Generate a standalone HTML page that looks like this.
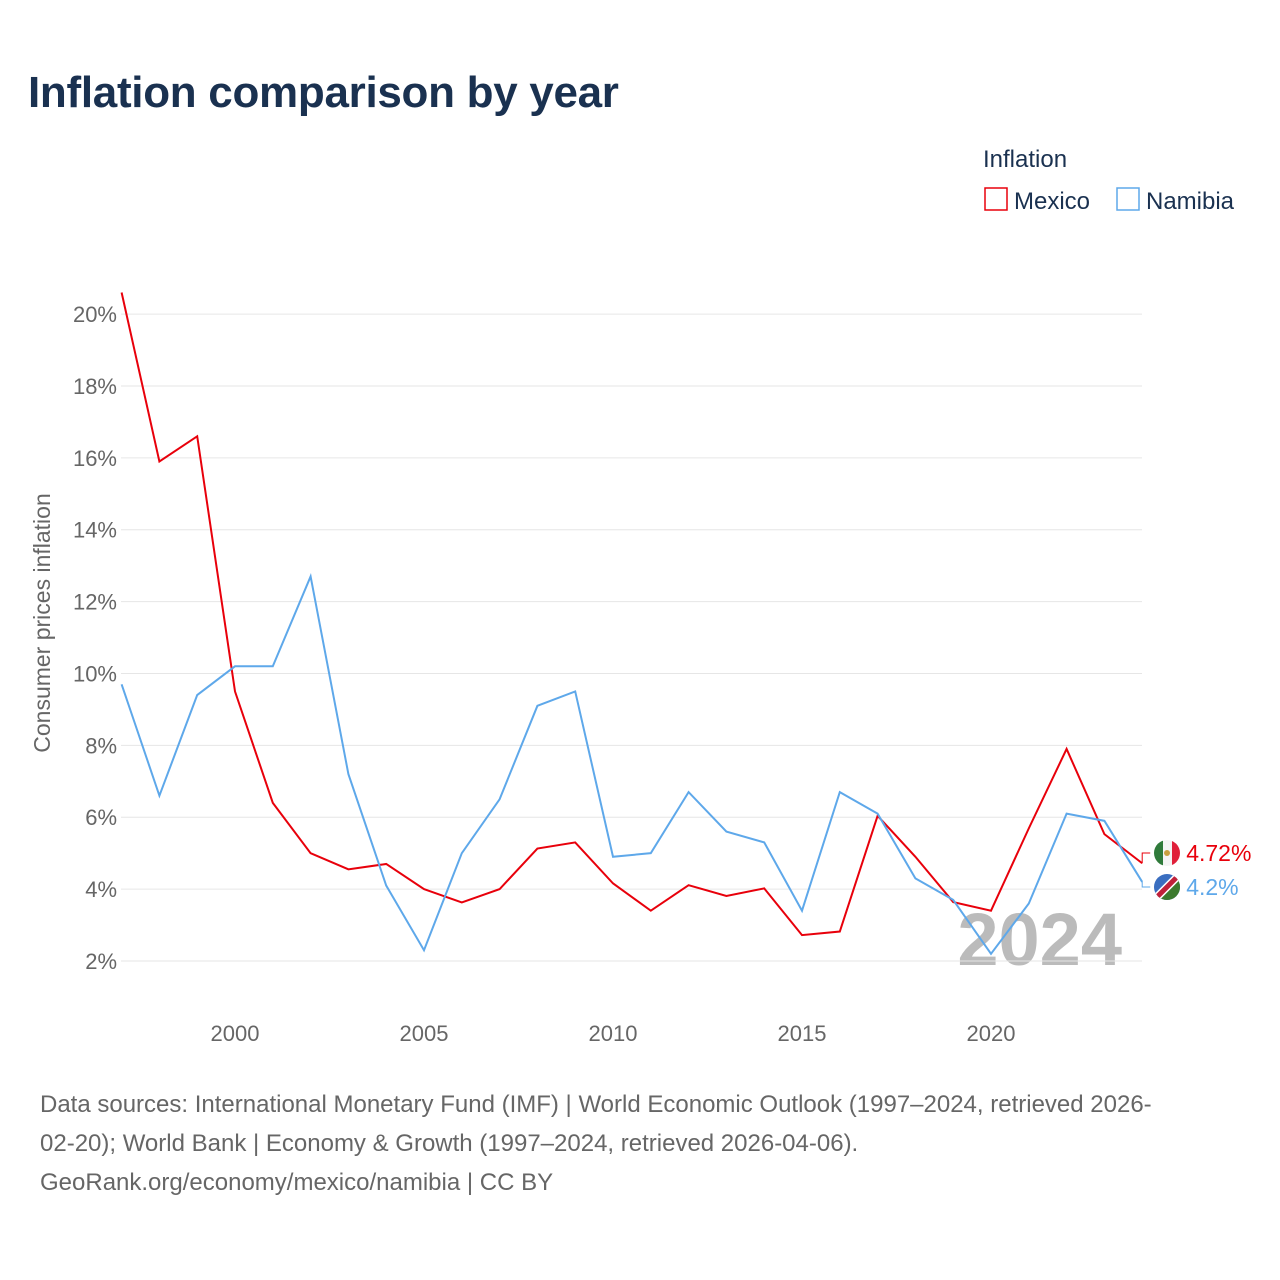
<!DOCTYPE html>
<html><head><meta charset="utf-8">
<style>
body{margin:0;background:#fff;font-family:"Liberation Sans",sans-serif;}
#wrap{position:relative;width:1280px;height:1280px;overflow:hidden;}
h1{position:absolute;left:28px;top:68px;margin:0;font-size:44px;font-weight:bold;color:#1a3150;letter-spacing:-0.3px;}
.src{position:absolute;left:40px;top:1085px;width:1230px;font-size:24px;line-height:39px;color:#666;white-space:nowrap;}
</style></head><body>
<div id="wrap">
<h1>Inflation comparison by year</h1>
<svg id="svg" width="1280" height="1280" style="position:absolute;left:0;top:0">
<defs><clipPath id="c1"><circle cx="1167" cy="853" r="13"/></clipPath><clipPath id="c2"><circle cx="1167" cy="887" r="13"/></clipPath></defs>
<text x="983" y="167" font-size="24" fill="#1a3150">Inflation</text>
<g><rect x="985" y="188" width="22" height="22" fill="none" stroke="#e8000b" stroke-width="1.5"/><text x="1014" y="209" font-size="24" fill="#1a3150">Mexico</text></g>
<g><rect x="1117" y="188" width="22" height="22" fill="none" stroke="#5ea8ea" stroke-width="1.5"/><text x="1146" y="209" font-size="24" fill="#1a3150">Namibia</text></g>
<text transform="translate(50,623) rotate(-90)" text-anchor="middle" font-size="23" fill="#666">Consumer prices inflation</text>
<text x="1122" y="965" text-anchor="end" font-size="74" font-weight="bold" fill="#bbb">2024</text>
<g id="grid"></g><g id="lines"></g>
<g clip-path="url(#c1)"><rect x="1154" y="840" width="9" height="26" fill="#2f7a3a"/><rect x="1163" y="840" width="9" height="26" fill="#f4f4f4"/><rect x="1172" y="840" width="9" height="26" fill="#e0203a"/><circle cx="1167" cy="853" r="3" fill="#c8a040"/></g>
<g clip-path="url(#c2)"><rect x="1154" y="874" width="26" height="26" fill="#3a6ec0"/><polygon points="1180,874 1180,900 1154,900" fill="#3c7a2e"/><line x1="1154" y1="900" x2="1180" y2="874" stroke="#fff" stroke-width="8"/><line x1="1154" y1="900" x2="1180" y2="874" stroke="#c0203a" stroke-width="5"/></g>
</svg>
<div class="src">Data sources: International Monetary Fund (IMF) | World Economic Outlook (1997–2024, retrieved 2026-<br>02-20); World Bank | Economy &amp; Growth (1997–2024, retrieved 2026-04-06).<br>GeoRank.org/economy/mexico/namibia | CC BY</div>
</div>
<script>
const years=[1997,1998,1999,2000,2001,2002,2003,2004,2005,2006,2007,2008,2009,2010,2011,2012,2013,2014,2015,2016,2017,2018,2019,2020,2021,2022,2023,2024];
const mexico=[20.6,15.9,16.6,9.5,6.4,5.0,4.55,4.7,4.0,3.63,4.0,5.13,5.3,4.16,3.4,4.11,3.81,4.02,2.72,2.82,6.04,4.9,3.64,3.4,5.69,7.9,5.53,4.72];
const namibia=[9.7,6.6,9.4,10.2,10.2,12.7,7.2,4.1,2.3,5.0,6.5,9.1,9.5,4.9,5.0,6.7,5.6,5.3,3.4,6.7,6.1,4.3,3.7,2.2,3.6,6.1,5.9,4.2];
const yTicks=[2,4,6,8,10,12,14,16,18,20];
const xTicks=[2000,2005,2010,2015,2020];
const NS="http://www.w3.org/2000/svg";
const X=y=>121.6+(y-1997)*37.8;
const Y=v=>961-(v-2)*35.94;
const grid=document.getElementById('grid'),lines=document.getElementById('lines');
function mk(t,a,p){const e=document.createElementNS(NS,t);for(const k in a)e.setAttribute(k,a[k]);p.appendChild(e);return e;}
yTicks.forEach(v=>{
  const l=mk('line',{x1:121,x2:1142,y1:Y(v),y2:Y(v),stroke:'#e6e6e6','stroke-width':1},grid);
  
  
  const t=mk('text',{x:117,y:Y(v)+8,'text-anchor':'end','font-size':22,fill:'#666'},grid);t.textContent=v+'%';
  
  
});
xTicks.forEach(v=>{
  const t=mk('text',{x:X(v),y:1041,'text-anchor':'middle','font-size':22,fill:'#666'},grid);t.textContent=v;
  
  
});
function series(d,c,name,lab,ly){
  const p=mk('polyline',{points:d.map((v,i)=>X(years[i])+','+Y(v)).join(' '),fill:'none',stroke:c,'stroke-width':2},lines);
  
  
  const last=d[d.length-1],x=X(years[years.length-1]);
  mk('polyline',{points:`${x},${Y(last)} ${x},${ly} ${x+8},${ly}`,fill:'none',stroke:c,'stroke-width':1},lines);
  const t=mk('text',{x:x+44,y:ly+8,'font-size':23,fill:c},lines);t.textContent=lab;
  
  
}
series(mexico,'#e8000b','mexico','4.72%',853);
series(namibia,'#5ea8ea','namibia','4.2%',887);
</script>
</body></html>
